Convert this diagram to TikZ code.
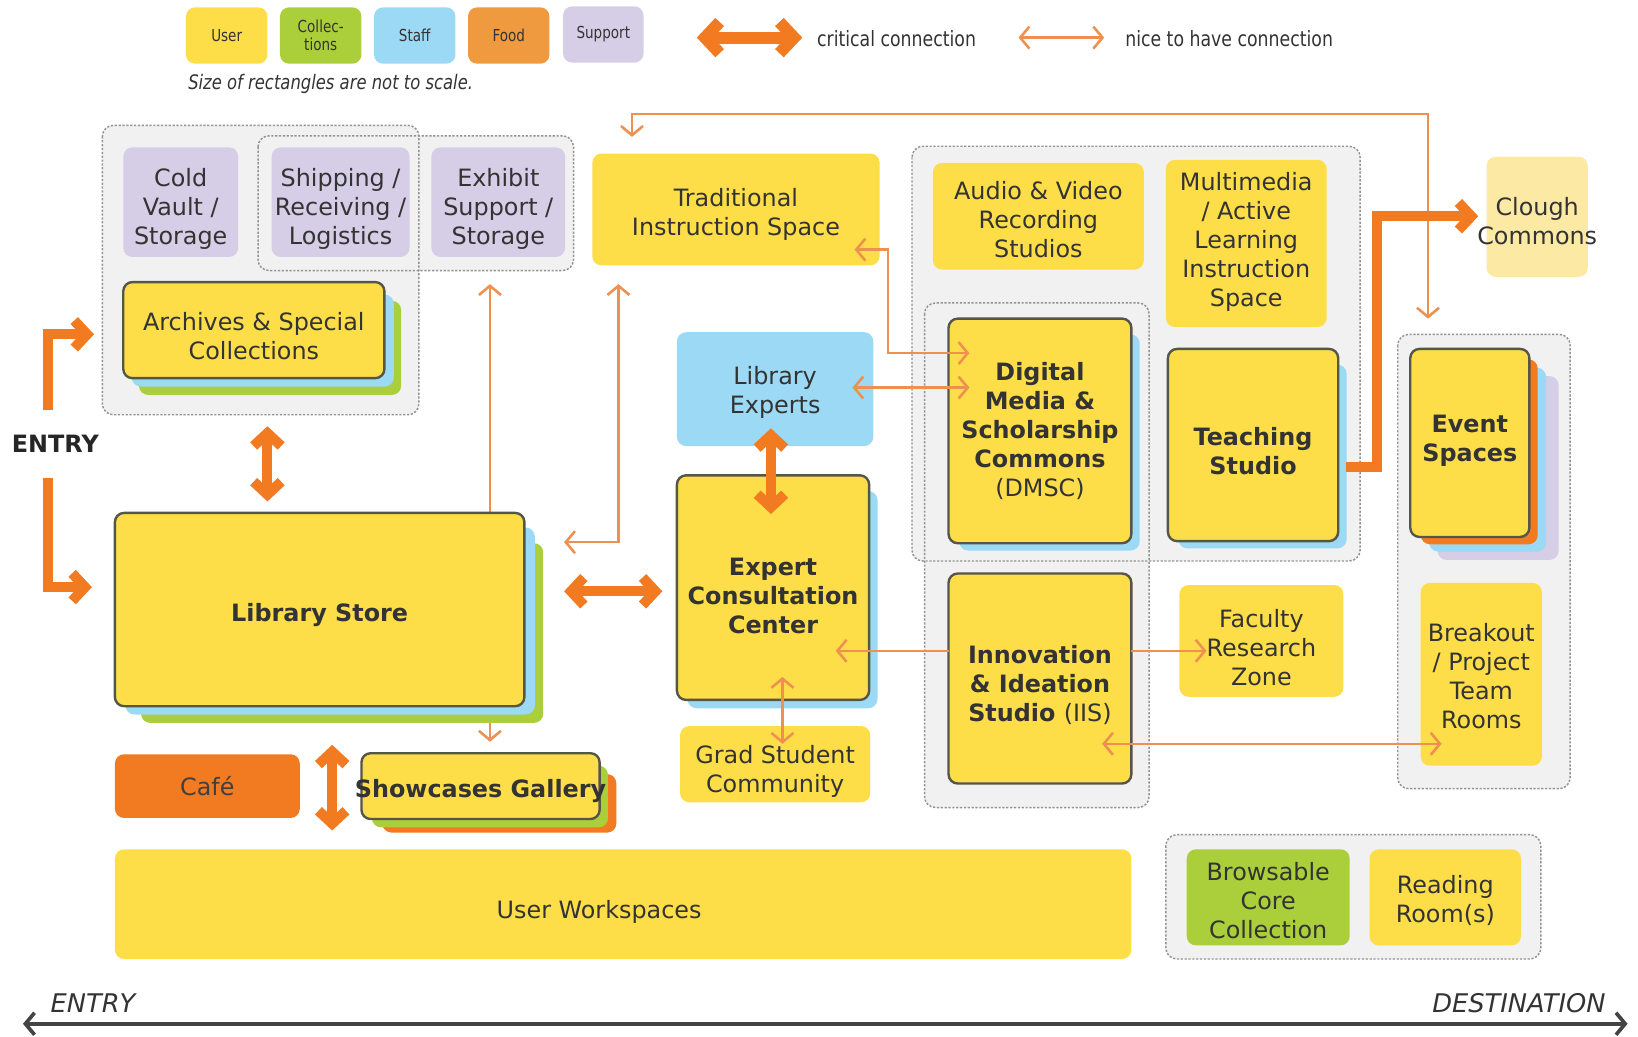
\documentclass[tikz,border=0pt]{standalone}
\usepackage{fontspec}
\setmainfont{DejaVu Sans}
\newfontfamily\nar{DejaVu Sans}[FakeStretch=0.82]
\usetikzlibrary{arrows.meta}
\definecolor{cyel}{HTML}{FDDE48}
\definecolor{cgrn}{HTML}{AACF3A}
\definecolor{cblu}{HTML}{9CD9F4}
\definecolor{corg}{HTML}{F27A21}
\definecolor{cfood}{HTML}{F09A40}
\definecolor{clav}{HTML}{D6CDE6}
\definecolor{cpale}{HTML}{FBE9A4}
\definecolor{cthin}{HTML}{EE9150}
\definecolor{ctxt}{HTML}{333333}
\definecolor{cbord}{HTML}{55554A}
\definecolor{cgrp}{HTML}{F1F1F1}
\definecolor{caxis}{HTML}{444444}
% box: style, name, x1, y1, x2, y2, text shift (down, px), text
\newcommand{\bxn}[8]{%
  \node[#1, minimum width={(#5-#3)*0.02cm}, minimum height={(#6-#4)*0.02cm}] (#2) at ({(#3+#5)/2},{(#4+#6)/2}) {};
  \node[#1, draw=none, fill=none, yshift={-(#7)*0.02cm}] (#2-t) at (#2.center) {#8};}
\newcommand{\lgn}[7]{\node[#1, minimum width={(#5-#3)*0.02cm}, minimum height={(#6-#4)*0.02cm}] (#2) at ({(#3+#5)/2},{(#4+#6)/2}) {#7};}
\tikzset{
  critTip/.tip={Straight Barb[length=7pt,width=15pt,line width=5.5pt]},
  bigTip/.tip={Straight Barb[length=8pt,width=17pt,line width=6.5pt]},
  niceTip/.tip={Straight Barb[length=5pt,width=12pt,line width=1.4pt]},
  axisTip/.tip={Straight Barb[length=5pt,width=12pt,line width=2pt]},
  box/.style={rounded corners=5pt, inner sep=0pt, align=center, text=ctxt,
     font=\fontsize{13}{15.8}\selectfont},
  ybox/.style={box, fill=cyel},
  bbox/.style={box, fill=cyel, draw=cbord, line width=1.3pt,
     font=\bfseries\fontsize{13}{15.8}\selectfont},
  lg/.style={rounded corners=5pt, inner sep=0pt, align=center, text=ctxt,
     font=\nar\fontsize{9}{9.8}\selectfont},
  grp/.style={rounded corners=6pt, fill=cgrp},
  grpline/.style={rounded corners=6pt, draw=gray!85, line width=0.8pt,
     dash pattern=on 1.2pt off 0.9pt},
  crit/.style={draw=corg, line width=5.5pt},
  nice/.style={draw=cthin, line width=1.4pt},
  lay/.style={rounded corners=5pt}
}
\begin{document}
\begin{tikzpicture}[x=0.02cm,y=-0.02cm]
\useasboundingbox (0,0) rectangle (1568,992);

% ---------- legend ----------
\lgn{lg, fill=cyel}{lgU}{178}{7}{256}{61}{User}
\lgn{lg, fill=cgrn}{lgC}{268}{7}{346}{61}{Collec-\\tions}
\lgn{lg, fill=cblu}{lgS}{358}{7}{436}{61}{Staff}
\lgn{lg, fill=cfood}{lgF}{448}{7}{526}{61}{Food}
\lgn{lg, fill=clav}{lgP}{539}{6}{616}{60}{Support}
\coordinate (lc1) at (667,36); \coordinate (lc2) at (768,36);
\draw[crit, line width=6.5pt, bigTip-bigTip] (lc1) -- (lc2);
\node[anchor=west, text=ctxt, font=\nar\fontsize{11.5}{13}\selectfont] (lgct) at (776,37) {critical connection};
\coordinate (ln1) at (975,36); \coordinate (ln2) at (1057,36);
\draw[nice, niceTip-niceTip] (ln1) -- (ln2);
\node[anchor=west, text=ctxt, font=\nar\fontsize{11.5}{13}\selectfont] (lgnt) at (1071,37) {nice to have connection};
\node[anchor=west, text=ctxt, font=\nar\itshape\fontsize{10.9}{12}\selectfont] (scale) at (174,80) {Size of rectangles are not to scale.};

% ---------- groups ----------
\path[grp] (98,120) rectangle (401,397);
\path[grp] (247,130) rectangle (549,259);
\path[grp] (873,140) rectangle (1302,537);
\path[grp] (885,290) rectangle (1100,773);
\path[grp] (1338,320) rectangle (1503,755);
\path[grp] (1116,799) rectangle (1475,918);
\draw[grpline] (98,120) rectangle (401,397);
\draw[grpline] (247,130) rectangle (549,259);
\draw[grpline] (873,140) rectangle (1302,537);
\draw[grpline] (885,290) rectangle (1100,773);
\draw[grpline] (1338,320) rectangle (1503,755);
\draw[grpline] (1116,799) rectangle (1475,918);

% thin line passing behind Library Store
\draw[nice, niceTip-niceTip] (469,272) -- (469,710);

% ---------- shadow layers ----------
\fill[lay, cgrn] (133,288) rectangle (384,378);
\fill[lay, cblu] (126,282) rectangle (377,370);
\fill[lay, cgrn] (135,520) rectangle (520,692);
\fill[lay, cblu] (120,505) rectangle (512,684);
\fill[lay, cblu] (658,470) rectangle (840,678);
\fill[lay, cblu] (918,320) rectangle (1091,527);
\fill[lay, cblu] (1128,349) rectangle (1289,525);
\fill[lay, clav] (1376,360) rectangle (1492,536);
\fill[lay, cblu] (1368,352) rectangle (1480,528);
\fill[lay, corg] (1360,344) rectangle (1472,521);
\fill[lay, corg] (366,741) rectangle (590,797);
\fill[lay, cgrn] (356,733) rectangle (582,792);

% ---------- boxes ----------
\bxn{box, fill=clav}{cold}{118}{141}{228}{246}{6}{Cold\\Vault /\\Storage}
\bxn{box, fill=clav}{ship}{260}{141}{392}{246}{6}{Shipping /\\Receiving /\\Logistics}
\bxn{box, fill=clav}{exh}{413}{141}{541}{246}{6}{Exhibit\\Support /\\Storage}
\bxn{box, fill=cyel, draw=cbord, line width=1.3pt}{arch}{118}{270}{368}{362}{6}{Archives \& Special\\Collections}
\bxn{ybox}{tis}{567}{147}{842}{254}{5}{Traditional\\Instruction Space}
\bxn{box, fill=cblu}{lexp}{648}{318}{836}{427}{3}{Library\\Experts}
\bxn{bbox}{ecc}{648}{455}{832}{670}{8}{Expert\\Consultation\\Center}
\bxn{bbox}{lstore}{110}{491}{502}{676}{5}{Library Store}
\bxn{box, fill=corg, text=black!75}{cafe}{110}{722}{287}{783}{0}{Café}
\bxn{bbox}{show}{346}{721}{574}{784}{5}{Showcases Gallery}
\bxn{ybox}{grad}{651}{695}{833}{768}{7}{Grad Student\\Community}
\bxn{ybox}{av}{893}{156}{1095}{258}{3}{Audio \& Video\\Recording\\Studios}
\bxn{ybox}{mm}{1116}{153}{1270}{313}{-1}{Multimedia\\/ Active\\Learning\\Instruction\\Space}
\bxn{bbox}{dmsc}{908}{305}{1083}{520}{0}{Digital\\Media \&\\Scholarship\\Commons\\{\mdseries (DMSC)}}
\bxn{bbox}{teach}{1118}{334}{1281}{518}{6}{Teaching\\Studio}
\bxn{bbox}{iis}{908}{549}{1083}{750}{6}{Innovation\\\& Ideation\\Studio {\mdseries (IIS)}}
\bxn{ybox}{frz}{1129}{560}{1286}{667}{6}{Faculty\\Research\\Zone}
\bxn{box, fill=cpale}{clough}{1423}{150}{1520}{265}{4}{Clough\\Commons}
\bxn{bbox}{event}{1350}{334}{1464}{514}{-2}{Event\\Spaces}
\bxn{ybox}{brk}{1360}{558}{1476}{733}{2}{Breakout\\/ Project\\Team\\Rooms}
\node[ybox, minimum width={973*0.02cm}, minimum height={105*0.02cm}] (uw) at (596.5,865.5) {};
\node[box, fill=none, xshift={-23*0.02cm}, yshift={-7*0.02cm}] (uw-t) at (uw.center) {User Workspaces};
\bxn{box, fill=cgrn}{bcc}{1136}{813}{1292}{905}{3}{Browsable\\Core\\Collection}
\bxn{ybox}{rr}{1311}{813}{1456}{905}{3}{Reading\\Room(s)}

\node[text=black!85, font=\bfseries\fontsize{13}{15}\selectfont] (entry) at (53,425) {ENTRY};

% ---------- thin connections ----------
\draw[nice, niceTip-niceTip] (605,131) -- (605,109) -- (1367,109) -- (1367,305);
\draw[nice, niceTip-niceTip] (592,272) -- (592,519) -- (540,519);
\draw[nice, niceTip-niceTip] (818,239) -- (850,239) -- (850,338) -- (928,338);
\draw[nice, niceTip-niceTip] (816,371) -- (928,371);
\draw[nice, niceTip-niceTip] (749,648) -- (749,712);
\draw[nice, -niceTip] (908,623) -- (800,623);
\draw[nice, -niceTip] (1083,623) -- (1155,623);
\draw[nice, niceTip-niceTip] (1055,712) -- (1380,712);

% ---------- critical connections ----------
\draw[crit, critTip-critTip] (256,408) -- (256,480);
\draw[crit, critTip-critTip] (540,566) -- (634,566);
\draw[crit, critTip-critTip] (738,410) -- (738,492);
\draw[crit, critTip-critTip] (318,713) -- (318,795);
\draw[crit, -critTip] (1288,447) -- (1318,447) -- (1318,207) -- (1415,207);
\draw[crit, -critTip] (46,392) -- (46,320) -- (90,320);
\draw[crit, -critTip] (46,458) -- (46,562) -- (88,562);

% ---------- axis ----------
\draw[draw=caxis, line width=2.3pt, axisTip-axisTip] (22,980) -- (1558,980);
\node[text=ctxt, font=\itshape\fontsize{14}{16}\selectfont] (axE) at (89,960) {ENTRY};
\node[text=ctxt, font=\itshape\fontsize{14}{16}\selectfont] (axD) at (1454,960) {DESTINATION};
\end{tikzpicture}
\end{document}
